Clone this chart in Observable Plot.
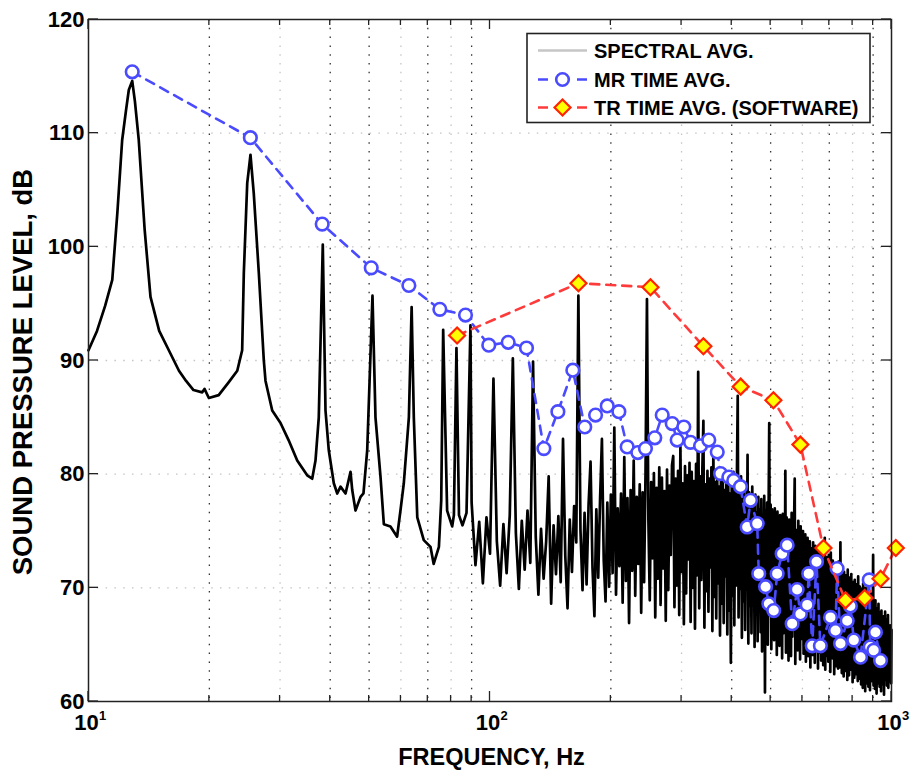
<!DOCTYPE html>
<html><head><meta charset="utf-8">
<script src="https://cdn.jsdelivr.net/npm/d3@7"></script>
<script src="https://cdn.jsdelivr.net/npm/@observablehq/plot@0.6"></script>
<style>body{margin:0;background:#fff}</style>
</head><body><div id="chart"></div>
<script>
// ---- Spectral average: low-frequency part (explicit pairs)
const specLowFreq = [10.0, 10.5, 11.0, 11.46, 11.8, 12.13, 12.4, 12.6, 12.85, 13.05, 13.34, 13.8, 14.27, 15.0, 15.85, 16.8, 17.5, 18.26, 19.2, 19.45, 19.94, 21.1, 22.36, 23.47, 24.14, 24.37, 24.85, 25.32, 25.8, 26.56, 27.33, 27.6, 28.68, 30.08, 31.5, 33.1, 35.05, 36.07, 36.76, 37.46, 38.33, 38.93, 39.67, 40.83, 41.64, 42.43, 43.67, 44.94, 45.38, 46.24, 47.6, 48.4, 49.45, 50.97, 51.85, 53.36, 54.4, 56.5, 58.7, 59.84, 61.0, 62.8, 63.8, 64.6, 65.9, 68.4, 71.1, 72.4, 74.6, 75.6, 76.45, 78.2, 80.5, 81.3, 82.5, 83.7, 85.4, 87.4, 89.4];
const specLowDb = [90.9, 92.6, 94.8, 97.1, 103.0, 109.4, 112.0, 113.8, 114.6, 112.8, 109.4, 101.5, 95.6, 92.6, 90.9, 89.1, 88.2, 87.4, 87.2, 87.5, 86.7, 86.95, 88.1, 89.1, 90.9, 97.7, 105.6, 108.1, 104.7, 97.7, 90.0, 88.2, 85.6, 84.5, 83.0, 81.2, 79.9, 79.6, 81.2, 85.0, 100.2, 85.6, 82.1, 79.2, 78.3, 78.9, 78.3, 80.2, 78.6, 76.8, 78.0, 78.3, 82.1, 95.7, 85.0, 79.8, 75.6, 75.4, 74.5, 76.8, 79.2, 85.0, 94.7, 85.0, 76.2, 74.2, 73.6, 72.1, 73.6, 77.7, 92.7, 76.8, 75.4, 76.4, 91.1, 76.4, 75.5, 76.6, 93.1];

// ---- Spectral average: FFT bins from 90 Hz to 1000 Hz, 2 Hz apart
const specBinStartHz = 90;
const specBinWidthHz = 2;
const specBinDb = [
77.5, 72.0, 75.8, 70.4, 76.2, 73.0, 88.4, 74.1, 70.2, 75.6,
71.3, 76.4, 90.2, 74.8, 69.9, 75.9, 71.6, 76.8, 72.2, 89.9,
74.5, 69.4, 75.2, 70.8, 74.1, 79.8, 68.6, 75.5, 71.2, 76.3,
70.5, 83.1, 72.8, 68.2, 76.0, 71.4, 77.2, 74.0, 95.7, 75.1,
69.8, 76.6, 70.3, 77.3, 81.1, 71.8, 67.5, 76.9, 70.9, 77.8,
83.1, 72.4, 68.8, 77.5, 70.1, 78.2, 71.3, 84.1, 69.4, 77.0,
71.9, 78.3, 68.7, 81.5, 70.6, 77.9, 66.9, 78.6, 71.5, 81.2,
69.3, 78.0, 72.1, 79.1, 67.8, 78.4, 70.5, 80.2, 95.4, 76.0,
68.9, 79.3, 72.6, 80.1, 67.4, 78.8, 70.8, 80.6, 68.5, 79.7,
71.7, 78.5, 67.1, 80.4, 69.8, 79.0, 72.9, 80.8, 81.6, 68.3,
79.6, 70.2, 80.3, 67.6, 82.4, 71.4, 79.2, 66.8, 80.7, 69.5,
79.9, 72.5, 81.0, 67.0, 80.2, 70.0, 79.4, 66.4, 80.9, 71.1,
89.0, 68.2, 79.8, 70.7, 80.5, 84.7, 66.5, 79.1, 69.7, 80.3,
67.9, 79.6, 71.8, 80.6, 66.2, 82.1, 69.2, 79.3, 67.3, 80.0,
70.4, 78.9, 65.8, 79.7, 68.6, 80.4, 66.9, 78.6, 71.0, 79.4,
65.9, 80.1, 68.0, 78.3, 63.4, 79.0, 69.3, 80.2, 66.7, 78.7,
70.2, 79.5, 86.9, 67.4, 78.1, 69.9, 79.8, 65.6, 77.9, 68.8,
79.0, 66.3, 77.6, 70.1, 81.7, 65.1, 78.4, 68.4, 77.2, 66.0,
78.9, 69.1, 77.0, 64.8, 78.2, 67.7, 76.6, 65.3, 78.0, 68.9,
76.9, 66.1, 77.8, 64.4, 76.3, 69.0, 78.1, 60.8, 76.8, 66.6,
77.5, 65.0, 76.1, 84.5, 67.8, 77.3, 64.6, 76.9, 68.2, 75.8,
65.4, 77.0, 67.1, 75.6, 64.1, 76.7, 66.8, 75.2, 64.9, 76.4,
67.6, 75.9, 63.8, 76.5, 66.0, 75.0, 68.3, 80.3, 64.3, 76.2,
66.4, 74.9, 63.6, 76.0, 67.2, 75.3, 64.0, 76.6, 65.7, 74.6,
66.9, 75.7, 79.6, 63.3, 75.1, 67.0, 74.3, 64.5, 75.9, 66.1,
74.0, 63.7, 75.4, 65.5, 73.6, 67.3, 75.0, 64.2, 73.8, 66.6,
74.7, 63.5, 73.2, 65.9, 74.4, 64.0, 72.9, 66.3, 74.1, 63.0,
73.5, 65.2, 72.6, 64.1, 74.0, 66.0, 72.3, 63.4, 73.7, 65.0,
72.0, 64.7, 73.3, 62.9, 71.8, 65.6, 73.0, 64.3, 71.5, 63.6,
72.8, 65.3, 71.2, 63.2, 72.5, 64.9, 74.4, 62.8, 71.9, 65.4,
72.7, 64.0, 71.0, 63.5, 72.9, 65.1, 71.6, 62.6, 73.1, 64.6,
71.3, 63.8, 72.4, 65.0, 70.9, 62.4, 72.1, 64.4, 70.6, 63.1,
71.8, 64.2, 70.7, 62.9, 72.3, 65.2, 70.4, 63.0, 74.0, 64.1,
70.8, 62.5, 71.7, 64.8, 70.2, 62.2, 71.4, 63.9, 69.9, 62.7,
71.1, 64.5, 70.0, 61.9, 71.6, 63.6, 69.7, 62.3, 70.9, 64.2,
69.5, 62.8, 71.2, 63.3, 69.8, 61.7, 70.5, 64.0, 69.3, 62.1,
70.7, 63.5, 69.1, 62.4, 70.3, 63.8, 68.9, 61.8, 71.0, 63.2,
69.6, 62.0, 70.1, 63.7, 68.7, 61.5, 69.9, 62.9, 68.4, 61.2,
70.4, 63.4, 68.8, 62.2, 69.4, 60.9, 70.0, 62.6, 68.3, 61.6,
69.8, 63.1, 68.6, 61.3, 69.2, 62.7, 68.1, 61.0, 69.5, 62.4,
68.5, 61.8, 69.0, 62.9, 67.9, 72.9, 61.4, 68.7, 62.3, 67.6,
61.1, 68.9, 62.5, 67.4, 60.7, 68.2, 62.0, 67.1, 61.6, 68.6,
62.8, 66.9, 61.3, 67.8, 62.1, 66.6, 60.9, 68.0, 62.6, 67.3,
61.5, 66.8, 62.4, 67.5, 60.6, 66.4, 62.2, 67.9, 61.9, 66.2,
62.7, 67.2, 61.4, 66.0, 62.3, 67.6, 61.2, 66.5, 62.6, 65.9,
61.8, 66.7, 62.1, 65.8, 61.6, 66.3
];

// ---- MR time average
const mrFreq = [12.85, 25.3, 38.2, 50.6, 62.8, 75.0, 86.9, 99.3, 111, 123.3, 136.2, 147.6, 160.8, 172.2, 183.2, 195.9, 209.4, 219.6, 233.4, 243.9, 257.3, 268.5, 284.3, 292.5, 303.9, 315.8, 334.5, 350.7, 368.1, 375.2, 393.4, 404.6, 420.6, 437, 445.5, 462.9, 467, 485.7, 494.9, 509, 519, 534, 549.6, 565.6, 582, 593, 616.6, 622, 634.6, 650.4, 665, 704.7, 725.3, 732, 746.5, 775.6, 790, 805.6, 837.3, 880, 885, 903, 912, 939];
const mrDb = [115.4, 109.6, 102.0, 98.15, 96.6, 94.5, 94.0, 91.35, 91.6, 91.1, 82.25, 85.5, 89.15, 84.15, 85.2, 86.0, 85.5, 82.4, 81.9, 82.25, 83.2, 85.2, 84.45, 83.0, 84.15, 82.8, 82.5, 83.0, 81.95, 80.05, 79.75, 79.45, 78.9, 75.35, 77.7, 75.65, 71.25, 70.1, 68.6, 68.0, 71.25, 73.0, 73.75, 66.85, 69.85, 67.7, 68.5, 71.25, 64.9, 72.3, 64.9, 67.4, 66.25, 71.7, 65.1, 67.1, 68.4, 65.4, 63.9, 70.7, 64.8, 64.5, 66.1, 63.6];

// ---- TR time average (software)
const trFreq = [82.8, 166.1, 251, 340, 421, 508, 593, 677, 768, 857, 939, 1025];
const trDb = [92.2, 96.8, 96.45, 91.26, 87.7, 86.5, 82.6, 73.5, 68.9, 69.1, 70.8, 73.5];

// ---- axes / grid / text
const yTicks = [60, 70, 80, 90, 100, 110, 120];
const yGrid = [70, 80, 90, 100, 110];
const xDecades = [10, 100, 1000];
const xExponents = ["1", "2", "3"];
const xGridDark = [20, 40, 50, 70, 90, 200, 400, 500, 700, 900];
const xGridLight = [30, 60, 80, 300, 600, 800];
const xMinor = [20, 30, 40, 50, 60, 70, 80, 90, 200, 300, 400, 500, 600, 700, 800, 900];
const xLabel = "FREQUENCY, Hz";
const yLabel = "SOUND PRESSURE LEVEL, dB";
const legendLabels = ["SPECTRAL AVG.", "MR TIME AVG.", "TR TIME AVG. (SOFTWARE)"];

const BLUE = "#4a4aff", RED = "#ff3a3a", DIAMOND_STROKE = "#ff2400", YELLOW = "#ffff00";
const FONT = "'Liberation Sans', Arial, Helvetica, sans-serif";

// build tables
const spectrum = specLowFreq.map((f, i) => ({f, db: specLowDb[i]}))
  .concat(specBinDb.map((db, i) => ({f: specBinStartHz + i * specBinWidthHz, db})));
const mr = mrFreq.map((f, i) => ({f, db: mrDb[i]}));
const tr = trFreq.map((f, i) => ({f, db: trDb[i]}));

const dots = "1.5,7.3";
const plot = Plot.plot({
  width: 912, height: 775,
  marginLeft: 88, marginRight: 21, marginTop: 19, marginBottom: 74,
  style: {fontFamily: FONT, fontSize: "22px", fontWeight: "bold", color: "#000", background: "#fff", overflow: "visible"},
  x: {type: "log", domain: [10, 1000], axis: null},
  y: {domain: [60, 120], axis: null},
  marks: [
    Plot.ruleX(xGridLight, {stroke: "#c4c4c4", strokeWidth: 1.3, strokeDasharray: dots}),
    Plot.ruleX(xGridDark, {stroke: "#333", strokeWidth: 1.3, strokeDasharray: dots}),
    Plot.ruleY(yGrid, {stroke: "#c4c4c4", strokeWidth: 1.3, strokeDasharray: dots}),
    Plot.line(spectrum, {x: "f", y: "db", stroke: "#000", strokeWidth: 2.7, strokeLinejoin: "round"}),
    Plot.line(mr, {x: "f", y: "db", stroke: BLUE, strokeWidth: 2.6, strokeDasharray: "9,7"}),
    Plot.dot(mr, {x: "f", y: "db", r: 6.3, stroke: BLUE, strokeWidth: 2.6, fill: "#fff"}),
    Plot.line(tr, {x: "f", y: "db", stroke: RED, strokeWidth: 2.6, strokeDasharray: "9,7"}),
    Plot.dot(tr, {x: "f", y: "db", symbol: "diamond2", r: 7.2, fill: YELLOW, stroke: DIAMOND_STROKE, strokeWidth: 2.2}),
    Plot.frame({stroke: "#222", strokeWidth: 1.5}),
    Plot.axisY(yTicks, {tickSize: 0, tickPadding: 4, label: null, fontSize: 22, fontWeight: "bold"}),
    Plot.text(xDecades, {x: d => d, frameAnchor: "bottom", text: () => "10", dy: 28, dx: -2, fontSize: 22, fontWeight: "bold"}),
    Plot.text(xDecades, {x: d => d, frameAnchor: "bottom", text: (d, i) => xExponents[i], dy: 18, dx: 14, fontSize: 13, fontWeight: "bold"})
  ]
});
document.getElementById("chart").appendChild(plot);

const svg = d3.select(plot);
const xs = plot.scale("x"), ys = plot.scale("y");
const L = 88, R = 891, T = 19, B = 701;

// inward tick marks
const tk = svg.append("g").attr("stroke", "#222").attr("stroke-width", 1.3);
xDecades.forEach(v => {
  const x = xs.apply(v);
  tk.append("line").attr("x1", x).attr("x2", x).attr("y1", B).attr("y2", B - 10);
  tk.append("line").attr("x1", x).attr("x2", x).attr("y1", T).attr("y2", T + 10);
});
xMinor.forEach(v => {
  const x = xs.apply(v);
  tk.append("line").attr("x1", x).attr("x2", x).attr("y1", B).attr("y2", B - 6);
  tk.append("line").attr("x1", x).attr("x2", x).attr("y1", T).attr("y2", T + 6);
});
yTicks.forEach(v => {
  const y = ys.apply(v);
  tk.append("line").attr("x1", L).attr("x2", L + 10).attr("y1", y).attr("y2", y);
  tk.append("line").attr("x1", R).attr("x2", R - 10).attr("y1", y).attr("y2", y);
});

// axis titles
svg.append("text").attr("x", (L + R) / 2 + 2).attr("y", 765).attr("text-anchor", "middle")
  .attr("font-size", 23.5).attr("font-weight", "bold").attr("font-family", FONT).attr("fill", "#000").text(xLabel);
svg.append("text").attr("transform", "translate(32,372) rotate(-90)").attr("text-anchor", "middle")
  .attr("font-size", 27.5).attr("font-weight", "bold").attr("font-family", FONT).attr("fill", "#000").text(yLabel);

// legend
const lg = svg.append("g").attr("font-family", FONT).attr("font-weight", "bold").attr("font-size", 20).attr("text-anchor", "start");
lg.append("rect").attr("x", 527).attr("y", 33.5).attr("width", 343).attr("height", 89)
  .attr("fill", "#fff").attr("stroke", "#222").attr("stroke-width", 1.6);
const rowsY = [50.5, 79.5, 107.5];
lg.append("line").attr("x1", 538).attr("x2", 587).attr("y1", rowsY[0]).attr("y2", rowsY[0]).attr("stroke", "#c6c6c6").attr("stroke-width", 2.6);
lg.append("line").attr("x1", 538).attr("x2", 587).attr("y1", rowsY[1]).attr("y2", rowsY[1]).attr("stroke", BLUE).attr("stroke-width", 2.6).attr("stroke-dasharray", "10,29");
lg.append("circle").attr("cx", 562.5).attr("cy", rowsY[1]).attr("r", 6.3).attr("fill", "#fff").attr("stroke", BLUE).attr("stroke-width", 2.6);
lg.append("line").attr("x1", 538).attr("x2", 587).attr("y1", rowsY[2]).attr("y2", rowsY[2]).attr("stroke", RED).attr("stroke-width", 2.6).attr("stroke-dasharray", "10,29");
lg.append("path").attr("d", d3.symbol(d3.symbolDiamond2, Math.PI * 7.2 * 7.2)()).attr("transform", `translate(562.5,${rowsY[2]})`)
  .attr("fill", YELLOW).attr("stroke", DIAMOND_STROKE).attr("stroke-width", 2.2);
legendLabels.forEach((t, i) => {
  lg.append("text").attr("x", 594).attr("y", rowsY[i] + 7.5).attr("fill", "#000").text(t);
});
</script>
</body></html>
